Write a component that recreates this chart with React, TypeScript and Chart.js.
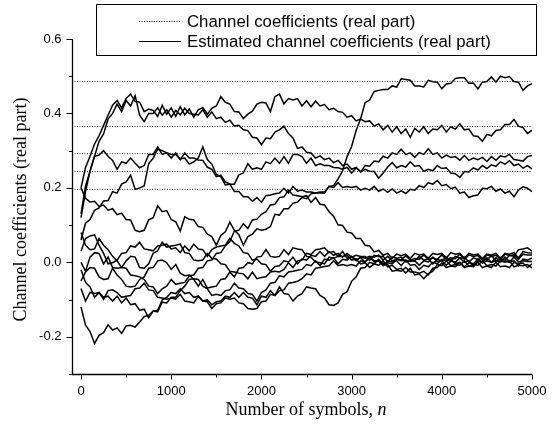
import React, { useEffect, useRef } from "react";
import { Chart, registerables } from "chart.js";

Chart.register(...registerables);

const W = 555;
const H = 429;

// sampling grid of the estimates (symbol index step)
const SYMBOL_STEP = 50;

// true channel coefficients (real part), non-zero taps
const trueCoefficients = [0.486, 0.365, 0.292, 0.244, 0.196];

// estimated coefficients, one value every 50 symbols from n = 0 to n = 5000
const estA = [
  0.2, 0.255, 0.285, 0.318, 0.34, 0.368, 0.395, 0.422, 0.435, 0.415,
  0.44, 0.452, 0.432, 0.43, 0.405, 0.412, 0.408, 0.392, 0.422, 0.398,
  0.415, 0.392, 0.418, 0.396, 0.412, 0.39, 0.41, 0.416, 0.398, 0.414,
  0.42, 0.445, 0.43, 0.425, 0.405, 0.404, 0.386, 0.398, 0.406, 0.425,
  0.43, 0.428, 0.405, 0.445, 0.452, 0.426, 0.44, 0.436, 0.44, 0.42,
  0.434, 0.418, 0.433, 0.42, 0.424, 0.41, 0.414, 0.405, 0.403, 0.39,
  0.394, 0.38, 0.385, 0.378, 0.38, 0.366, 0.372, 0.356, 0.368, 0.35,
  0.364, 0.346, 0.358, 0.336, 0.36, 0.35, 0.364, 0.346, 0.358, 0.356,
  0.368, 0.35, 0.364, 0.358, 0.372, 0.356, 0.358, 0.34, 0.338, 0.325,
  0.344, 0.34, 0.354, 0.356, 0.37, 0.37, 0.384, 0.366, 0.362, 0.346,
  0.355,
];
const estB = [
  0.12, 0.19, 0.245, 0.285, 0.325, 0.345, 0.385, 0.4, 0.425, 0.405,
  0.435, 0.42, 0.448, 0.395, 0.378, 0.4, 0.4, 0.415, 0.395, 0.41,
  0.39, 0.408, 0.396, 0.414, 0.4, 0.398, 0.396, 0.41, 0.39, 0.404,
  0.386, 0.39, 0.376, 0.382, 0.366, 0.368, 0.356, 0.354, 0.336, 0.334,
  0.316, 0.334, 0.332, 0.35, 0.356, 0.366, 0.346, 0.334, 0.306, 0.31,
  0.296, 0.294, 0.28, 0.286, 0.276, 0.28, 0.268, 0.274, 0.26, 0.264,
  0.25, 0.255, 0.243, 0.25, 0.245, 0.244, 0.226, 0.24, 0.256, 0.268,
  0.254, 0.26, 0.256, 0.27, 0.258, 0.26, 0.245, 0.25, 0.246, 0.26,
  0.252, 0.254, 0.24, 0.238, 0.228, 0.244, 0.243, 0.254, 0.248, 0.26,
  0.252, 0.262, 0.258, 0.27, 0.264, 0.273, 0.26, 0.264, 0.253, 0.26,
  0.251,
];
const estC = [
  0.13, 0.205, 0.245, 0.285, 0.288, 0.3, 0.285, 0.274, 0.25, 0.27,
  0.266, 0.28, 0.266, 0.254, 0.26, 0.29, 0.29, 0.31, 0.29, 0.294,
  0.29, 0.29, 0.278, 0.28, 0.264, 0.27, 0.28, 0.31, 0.276, 0.264,
  0.236, 0.23, 0.208, 0.21, 0.21, 0.235, 0.24, 0.265, 0.25, 0.254,
  0.25, 0.27, 0.265, 0.28, 0.266, 0.284, 0.266, 0.29, 0.29, 0.284,
  0.266, 0.28, 0.26, 0.265, 0.26, 0.26, 0.255, 0.254, 0.25, 0.255,
  0.24, 0.254, 0.243, 0.26, 0.258, 0.272, 0.27, 0.285, 0.28, 0.294,
  0.29, 0.304, 0.29, 0.294, 0.282, 0.295, 0.29, 0.305, 0.29, 0.294,
  0.28, 0.288, 0.282, 0.284, 0.274, 0.287, 0.274, 0.28, 0.276, 0.282,
  0.271, 0.284, 0.274, 0.286, 0.283, 0.29, 0.276, 0.274, 0.272, 0.284,
  0.287,
];
const estD = [
  0.06, 0.105, 0.115, 0.14, 0.146, 0.165, 0.166, 0.19, 0.186, 0.21,
  0.216, 0.234, 0.196, 0.2, 0.205, 0.265, 0.28, 0.304, 0.3, 0.294,
  0.28, 0.294, 0.276, 0.294, 0.28, 0.28, 0.275, 0.274, 0.256, 0.25,
  0.23, 0.234, 0.216, 0.21, 0.19, 0.19, 0.176, 0.176, 0.164, 0.174,
  0.161, 0.179, 0.181, 0.184, 0.186, 0.199, 0.186, 0.204, 0.191, 0.194,
  0.189, 0.189, 0.186, 0.187, 0.186, 0.204, 0.201, 0.214, 0.201, 0.204,
  0.201, 0.204, 0.194, 0.199, 0.194, 0.204, 0.191, 0.197, 0.188, 0.197,
  0.186, 0.192, 0.185, 0.196, 0.194, 0.206, 0.201, 0.214, 0.21, 0.22,
  0.206, 0.209, 0.198, 0.202, 0.186, 0.189, 0.174, 0.179, 0.181, 0.199,
  0.198, 0.204, 0.191, 0.197, 0.186, 0.191, 0.176, 0.194, 0.203, 0.199,
  0.19,
];
const estE = [
  0.2, 0.172, 0.162, 0.164, 0.15, 0.154, 0.14, 0.144, 0.128, 0.132,
  0.115, 0.114, 0.086, 0.082, 0.086, 0.114, 0.12, 0.152, 0.136, 0.139,
  0.115, 0.109, 0.084, 0.122, 0.116, 0.114, 0.096, 0.094, 0.076, 0.069,
  0.046, 0.072, 0.082, 0.108, 0.086, 0.074, 0.046, 0.069, 0.076, 0.09,
  0.086, 0.089, 0.096, 0.129, 0.127, 0.144, 0.144, 0.159, 0.162, 0.174,
  0.171, 0.184, 0.186, 0.189, 0.189, 0.204, 0.206, 0.224, 0.246, 0.284,
  0.311, 0.354, 0.386, 0.429, 0.436, 0.459, 0.462, 0.464, 0.464, 0.474,
  0.471, 0.493, 0.491, 0.489, 0.474, 0.474, 0.471, 0.489, 0.485, 0.484,
  0.466, 0.479, 0.481, 0.494, 0.496, 0.496, 0.481, 0.482, 0.466, 0.484,
  0.486, 0.498, 0.484, 0.5, 0.496, 0.499, 0.486, 0.484, 0.462, 0.474,
  0.48,
];
const estP = [
  0.08, 0.046, 0.034, 0.036, 0.064, 0.046, 0.034, 0.016, 0.004, -0.014,
  -0.016, -0.034, -0.036, -0.039, -0.046, -0.064, -0.066, -0.084, -0.071, -0.064,
  -0.046, -0.059, -0.056, -0.054, -0.036, -0.034, -0.016, -0.014, 0.004, 0.006,
  0.024, 0.026, 0.044, 0.056, 0.084, 0.086, 0.104, 0.091, 0.114, 0.116,
  0.129, 0.136, 0.154, 0.156, 0.174, 0.176, 0.194, 0.181, 0.179, 0.176,
  0.179, 0.161, 0.174, 0.156, 0.154, 0.136, 0.124, 0.101, 0.099, 0.081,
  0.079, 0.064, 0.064, 0.046, 0.044, 0.028, 0.032, 0.019, 0.024, 0.011,
  0.022, 0.018, 0.022, 0.01, 0.024, 0.02, 0.022, 0.011, 0.024, 0.021,
  0.024, 0.012, 0.026, 0.022, 0.024, 0.011, 0.024, 0.02, 0.022, 0.01,
  0.022, 0.02, 0.024, 0.011, 0.024, 0.022, 0.026, 0.012, 0.029, 0.026,
  0.025,
];
const estZ2 = [
  0.03, 0.064, 0.071, 0.074, 0.046, 0.024, -0.004, -0.001, 0.006, 0.024,
  0.026, 0.044, 0.041, 0.054, 0.036, 0.034, 0.031, 0.044, 0.046, 0.049,
  0.036, 0.039, 0.026, 0.044, 0.031, 0.049, 0.036, 0.034, 0.016, 0.034,
  0.041, 0.044, 0.046, 0.064, 0.051, 0.044, 0.026, 0.024, 0.006, 0.009,
  -0.004, -0.006, -0.024, -0.011, -0.009, 0.004, 0.001, 0.014, -0.004, 0.009,
  0.006, 0.019, 0.016, 0.029, 0.016, 0.029, 0.019, 0.024, 0.014, 0.024,
  0.014, 0.019, 0.016, 0.016, 0.006, 0.019, 0.016, 0.016, 0.001, 0.014,
  0.011, 0.014, 0.001, 0.004, 0.004, 0.016, 0.006, 0.009, -0.004, 0.008,
  0.004, 0.014, 0.002, 0.016, 0.011, 0.014, 0.001, 0.012, 0.008, 0.01,
  0.006, 0.018, 0.004, 0.008, 0.006, 0.019, 0.016, 0.034, 0.036, 0.039,
  0.03,
];
const estZ3 = [
  0.0, -0.024, 0.014, 0.026, 0.024, -0.004, 0.014, -0.014, -0.016, -0.014,
  0.004, 0.016, 0.014, -0.014, -0.016, -0.004, 0.024, 0.031, 0.054, 0.041,
  0.044, 0.046, 0.049, 0.026, 0.024, 0.006, 0.004, 0.006, 0.024, 0.011,
  0.009, -0.004, -0.006, -0.024, -0.026, -0.029, -0.031, -0.044, -0.026, -0.044,
  -0.041, -0.039, -0.026, -0.024, -0.026, -0.019, -0.001, -0.014, 0.004, 0.006,
  0.024, 0.021, 0.034, 0.036, 0.039, 0.026, 0.029, 0.016, 0.029, 0.011,
  0.014, 0.008, 0.012, 0.001, 0.014, 0.004, 0.004, -0.009, 0.004, 0.001,
  0.004, -0.009, 0.006, 0.002, 0.004, -0.008, 0.004, 0.001, 0.014, 0.002,
  0.004, -0.008, 0.004, 0.0, 0.012, 0.0, 0.004, -0.009, 0.004, 0.001,
  0.012, 0.0, 0.004, 0.001, 0.014, 0.002, 0.004, -0.009, 0.009, 0.006,
  0.012,
];
const estZ4 = [
  -0.05, -0.026, -0.014, -0.016, -0.039, -0.046, -0.044, -0.016, -0.034, -0.046,
  -0.064, -0.066, -0.064, -0.046, -0.039, -0.016, -0.014, 0.004, 0.006, -0.001,
  -0.019, -0.006, -0.029, -0.036, -0.034, -0.046, -0.064, -0.046, -0.069, -0.066,
  -0.064, -0.046, -0.044, -0.026, -0.039, -0.016, -0.014, -0.001, -0.004, 0.014,
  0.016, 0.034, 0.016, 0.014, 0.016, 0.034, 0.021, 0.039, 0.036, 0.034,
  0.016, 0.014, 0.001, -0.001, -0.004, 0.014, 0.011, 0.016, 0.016, 0.019,
  0.006, 0.009, -0.004, -0.001, -0.014, -0.004, -0.008, 0.004, -0.012, -0.008,
  -0.019, -0.016, -0.029, -0.016, -0.034, -0.031, -0.044, -0.031, -0.024, -0.006,
  -0.009, 0.004, -0.009, -0.006, -0.008, 0.004, -0.01, -0.006, -0.008, 0.004,
  -0.009, -0.006, -0.01, 0.004, 0.0, 0.004, -0.012, -0.008, -0.009, -0.006,
  -0.015,
];
const estZ5 = [
  -0.07, -0.104, -0.081, -0.084, -0.081, -0.094, -0.091, -0.104, -0.091, -0.109,
  -0.096, -0.114, -0.111, -0.129, -0.126, -0.149, -0.131, -0.129, -0.101, -0.094,
  -0.081, -0.084, -0.071, -0.084, -0.081, -0.094, -0.091, -0.104, -0.101, -0.114,
  -0.106, -0.104, -0.091, -0.094, -0.081, -0.094, -0.081, -0.094, -0.096, -0.114,
  -0.091, -0.094, -0.076, -0.089, -0.066, -0.084, -0.086, -0.104, -0.091, -0.084,
  -0.066, -0.069, -0.071, -0.089, -0.096, -0.114, -0.116, -0.109, -0.086, -0.079,
  -0.051, -0.039, -0.016, -0.014, 0.0, -0.004, 0.008, -0.004, -0.001, -0.004,
  0.008, 0.004, 0.006, -0.008, -0.006, -0.019, -0.008, -0.012, 0.0, -0.004,
  0.008, 0.004, 0.008, -0.004, 0.0, -0.012, -0.001, -0.004, 0.009, -0.002,
  0.004, 0.0, 0.012, 0.002, 0.004, 0.0, 0.014, 0.001, 0.004, 0.002,
  0.002,
];
const estZ6 = [
  -0.02, -0.054, -0.066, -0.094, -0.081, -0.099, -0.076, -0.074, -0.081, -0.094,
  -0.091, -0.089, -0.071, -0.069, -0.056, -0.074, -0.076, -0.094, -0.096, -0.099,
  -0.096, -0.099, -0.086, -0.104, -0.106, -0.109, -0.091, -0.104, -0.106, -0.124,
  -0.111, -0.109, -0.096, -0.099, -0.096, -0.109, -0.111, -0.124, -0.126, -0.124,
  -0.106, -0.104, -0.086, -0.089, -0.076, -0.074, -0.056, -0.054, -0.051, -0.044,
  -0.031, -0.034, -0.016, -0.014, -0.011, -0.009, 0.004, -0.009, -0.006, -0.009,
  -0.006, -0.01, 0.004, 0.001, 0.014, 0.002, 0.004, -0.008, -0.006, -0.024,
  -0.021, -0.024, -0.014, -0.026, -0.026, -0.029, -0.024, -0.034, -0.016, -0.014,
  -0.002, -0.014, -0.01, -0.012, 0.0, -0.014, -0.01, -0.012, 0.0, -0.014,
  -0.01, -0.014, 0.0, -0.012, -0.01, -0.014, 0.0, -0.004, -0.002, -0.014,
  -0.004,
];
const estZ7 = [
  -0.12, -0.169, -0.186, -0.218, -0.196, -0.189, -0.168, -0.182, -0.176, -0.191,
  -0.171, -0.169, -0.174, -0.16, -0.146, -0.142, -0.131, -0.133, -0.107, -0.109,
  -0.094, -0.094, -0.076, -0.064, -0.046, -0.044, -0.046, -0.064, -0.071, -0.089,
  -0.086, -0.089, -0.076, -0.074, -0.056, -0.069, -0.071, -0.084, -0.086, -0.104,
  -0.081, -0.074, -0.056, -0.054, -0.036, -0.039, -0.026, -0.024, -0.021, -0.019,
  -0.006, -0.009, 0.004, -0.009, 0.009, 0.006, 0.012, -0.004, 0.008, 0.006,
  0.016, 0.004, 0.014, 0.011, 0.016, 0.014, 0.019, 0.006, 0.016, 0.004,
  0.009, 0.006, 0.018, 0.006, 0.01, 0.008, 0.02, 0.008, 0.012, 0.008,
  0.02, 0.008, 0.012, 0.01, 0.022, 0.008, 0.02, 0.016, 0.018, 0.006,
  0.02, 0.016, 0.019, 0.008, 0.022, 0.018, 0.02, 0.008, 0.022, 0.02,
  0.02,
];

const estimates = [estA, estB, estC, estD, estE, estP, estZ2, estZ3, estZ4, estZ5, estZ6, estZ7];

const xRange = [-100, 5000];
const yRange = [-0.3, 0.6];
const xMajorTicks = [0, 1000, 2000, 3000, 4000, 5000];
const xMinorTicks = [500, 1500, 2500, 3500, 4500];
const yMajorTicks = [-0.2, 0.0, 0.2, 0.4, 0.6];
const yMinorTicks = [-0.3, -0.1, 0.1, 0.3, 0.5];
const yTickLabels = ["-0.2", "0.0", "0.2", "0.4", "0.6"];
const xTitle = "Number of symbols, ";
const xTitleVar = "n";
const yTitle = "Channel coefficients (real part)";
const legendLabels = ["Channel coefficients (real part)", "Estimated channel coefficients (real part)"];

const axesPlugin = {
  id: "axesAndLegend",
  afterDraw(chart: any) {
    const ctx = chart.ctx as CanvasRenderingContext2D;
    const xs = chart.scales.x;
    const ys = chart.scales.y;
    const ca = chart.chartArea;
    ctx.save();
    ctx.strokeStyle = "#000";
    ctx.fillStyle = "#000";
    ctx.lineWidth = 1.3;
    ctx.setLineDash([]);
    const left = Math.round(ca.left) + 0.5;
    const bottom = Math.round(ca.bottom) + 0.5;
    // axis lines
    ctx.beginPath();
    ctx.moveTo(left, ys.getPixelForValue(yRange[1]));
    ctx.lineTo(left, bottom);
    ctx.lineTo(xs.getPixelForValue(xRange[1]), bottom);
    ctx.stroke();
    // ticks
    ctx.lineWidth = 1;
    ctx.beginPath();
    xMajorTicks.forEach((v) => {
      const px = Math.round(xs.getPixelForValue(v)) + 0.5;
      ctx.moveTo(px, bottom);
      ctx.lineTo(px, bottom + 5);
    });
    xMinorTicks.forEach((v) => {
      const px = Math.round(xs.getPixelForValue(v)) + 0.5;
      ctx.moveTo(px, bottom);
      ctx.lineTo(px, bottom + 3);
    });
    yMajorTicks.forEach((v) => {
      const py = Math.round(ys.getPixelForValue(v)) + 0.5;
      ctx.moveTo(left, py);
      ctx.lineTo(left - 6, py);
    });
    yMinorTicks.forEach((v) => {
      const py = Math.round(ys.getPixelForValue(v)) + 0.5;
      ctx.moveTo(left, py);
      ctx.lineTo(left - 3.5, py);
    });
    ctx.stroke();
    // tick labels
    ctx.font = '13px "Liberation Sans", Arial, sans-serif';
    ctx.textAlign = "center";
    ctx.textBaseline = "middle";
    xMajorTicks.forEach((v) => {
      ctx.fillText(String(v), xs.getPixelForValue(v), bottom + 17);
    });
    ctx.textAlign = "right";
    yMajorTicks.forEach((v, i) => {
      ctx.fillText(yTickLabels[i], left - 11, ys.getPixelForValue(v));
    });
    // x title
    const serif = '"Liberation Serif", "Times New Roman", serif';
    ctx.font = `18px ${serif}`;
    const w1 = ctx.measureText(xTitle).width;
    ctx.font = `italic 18px ${serif}`;
    const w2 = ctx.measureText(xTitleVar).width;
    const cx = (ca.left + xs.getPixelForValue(xRange[1])) / 2 + 4;
    const startX = cx - (w1 + w2) / 2;
    ctx.textAlign = "left";
    ctx.font = `18px ${serif}`;
    ctx.fillText(xTitle, startX, 410);
    ctx.font = `italic 18px ${serif}`;
    ctx.fillText(xTitleVar, startX + w1, 410);
    // y title
    ctx.save();
    ctx.translate(21, (ca.top + ca.bottom) / 2 + 3);
    ctx.rotate(-Math.PI / 2);
    ctx.textAlign = "center";
    ctx.font = `18px ${serif}`;
    ctx.fillText(yTitle, 0, 0);
    ctx.restore();
    // legend
    ctx.fillStyle = "#fff";
    ctx.fillRect(96, 4, 441, 52);
    ctx.lineWidth = 1;
    ctx.strokeStyle = "#000";
    ctx.strokeRect(96.5, 4.5, 440, 51);
    ctx.fillStyle = "#000";
    ctx.font = '16.8px "Liberation Sans", Arial, sans-serif';
    ctx.textAlign = "left";
    ctx.textBaseline = "middle";
    const rows = [21, 41];
    rows.forEach((ry, i) => {
      ctx.beginPath();
      ctx.lineWidth = 1;
      ctx.setLineDash(i === 0 ? [1, 1.5] : []);
      ctx.moveTo(139, ry + 0.5);
      ctx.lineTo(181, ry + 0.5);
      ctx.stroke();
      ctx.setLineDash([]);
      ctx.fillText(legendLabels[i], 187, ry + 1);
    });
    ctx.restore();
  },
};

export default function App() {
  const ref = useRef<HTMLCanvasElement | null>(null);
  useEffect(() => {
    if (!ref.current) return;
    const datasets: any[] = [];
    trueCoefficients.forEach((c) => {
      datasets.push({
        data: [
          { x: xRange[0], y: c },
          { x: xRange[1], y: c },
        ],
        borderColor: "#333",
        borderWidth: 1,
        borderDash: [1, 1.5],
        pointRadius: 0,
        fill: false,
        tension: 0,
      });
    });
    estimates.forEach((arr) => {
      datasets.push({
        data: arr.map((v, i) => ({ x: i * SYMBOL_STEP, y: v })),
        borderColor: "#000",
        borderWidth: 1.5,
        pointRadius: 0,
        fill: false,
        tension: 0,
      });
    });
    const chart = new Chart(ref.current, {
      type: "line",
      data: { datasets },
      options: {
        animation: false,
        responsive: false,
        devicePixelRatio: 1,
        layout: { padding: { left: 72, right: 23, top: 39, bottom: 55 } },
        plugins: { legend: { display: false }, tooltip: { enabled: false } },
        scales: {
          x: { type: "linear", min: xRange[0], max: xRange[1], display: false },
          y: { type: "linear", min: yRange[0], max: yRange[1], display: false },
        },
      },
      plugins: [axesPlugin],
    });
    return () => chart.destroy();
  }, []);
  return (
    <div style={{ position: "fixed", left: 0, top: 0, width: W, height: H, background: "#fff" }}>
      <canvas ref={ref} width={W} height={H} style={{ width: W, height: H }} />
    </div>
  );
}
